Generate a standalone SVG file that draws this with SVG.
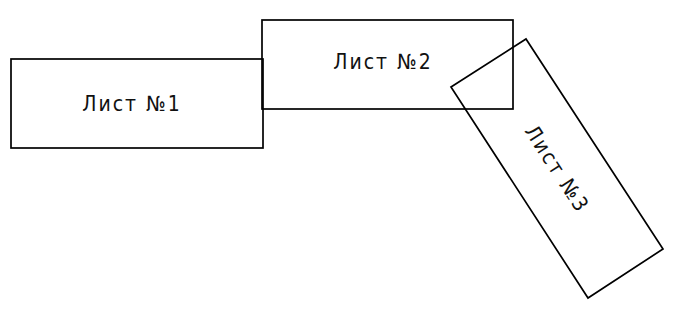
<svg xmlns="http://www.w3.org/2000/svg" width="682" height="336" viewBox="0 0 682 336">
<style>
.sheet{fill:none;stroke:#000;stroke-width:1.7}
.lbl{font-family:"DejaVu Sans Condensed","DejaVu Sans",sans-serif;font-stretch:condensed;font-size:21px;letter-spacing:2px;fill:#111;text-anchor:middle;dominant-baseline:central}
</style>
<rect width="682" height="336" fill="#fff"/>
<g id="sheet1">
<rect class="sheet" x="11" y="59" width="252" height="89"/>
<text class="lbl" x="132" y="104">Лист №1</text>
</g>
<g id="sheet2">
<rect class="sheet" x="262" y="20" width="251" height="89"/>
<text class="lbl" x="383" y="62">Лист №2</text>
</g>
<g id="sheet3">
<polygon class="sheet" points="451,87 526,39 663,249 588,298"/>
<text class="lbl" x="557" y="169" transform="rotate(57 557 169)">Лист №3</text>
</g>
<g id="connectors"/>
</svg>
